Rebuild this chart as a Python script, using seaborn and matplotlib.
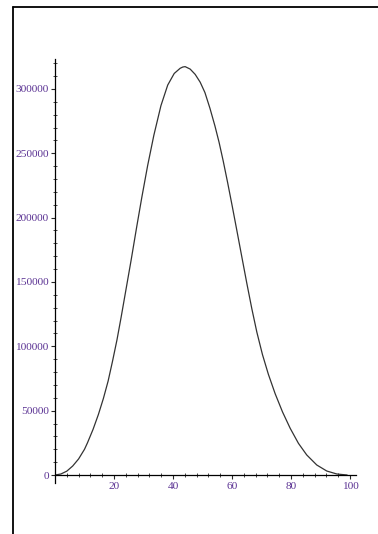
import numpy as np
import seaborn as sns
import matplotlib.pyplot as plt
from matplotlib.lines import Line2D
from matplotlib.ticker import MultipleLocator

# values
x_vals = [0, 2, 4, 6, 8, 10, 11, 12.9, 14.7, 16.4, 18, 19.5, 21, 22.4, 23.7,
          25.8, 27.7, 29.4, 31.4, 33.5, 35.9, 38.2, 40.4, 42.4, 43.3, 44.1,
          45.8, 47.5, 49.2, 50.8, 52.5, 54.2, 55.6, 57.0, 58.5, 60.1, 61.6,
          63.3, 65.0, 66.7, 68.4, 70.3, 72.3, 74.6, 77.1, 79.7, 82.5, 85.3,
          88.7, 92.1, 95.5, 99.0]
y_vals = [0, 800, 3000, 7000, 12500, 20000, 25000, 35500, 47000, 59500,
          73000, 88500, 105000, 122500, 139500, 167000, 193000, 215500,
          240500, 264000, 287000, 303000, 312000, 316000, 317000, 317300,
          315400, 311300, 305200, 297200, 285000, 271200, 258500, 244000,
          227200, 208400, 190300, 169600, 149000, 129200, 111000, 93600,
          78300, 63200, 49000, 36300, 24600, 15600, 7800, 3100, 800, 0]

x_ticks = [20, 40, 60, 80, 100]
y_ticks = [0, 50000, 100000, 150000, 200000, 250000, 300000]

sns.set_style("ticks")
plt.rcParams['font.family'] = ['Liberation Serif', 'DejaVu Serif']

label_color = "#5c3494"

fig = plt.figure(figsize=(3.78, 5.34), dpi=100)
ax = fig.add_axes([55 / 378, 1 - 483 / 534, 301 / 378, (483 - 59.3) / 534])

sns.lineplot(x=x_vals, y=y_vals, ax=ax, color="#333333", linewidth=0.9,
             sort=False, estimator=None)

ax.set_xlim(0, 102)
ax.set_ylim(-6200, 323000)
ax.spines["top"].set_visible(False)
ax.spines["right"].set_visible(False)
ax.spines["bottom"].set_position(("data", 0))
for s in ("left", "bottom"):
    ax.spines[s].set_linewidth(0.9)
    ax.spines[s].set_color("black")

ax.set_xticks(x_ticks)
ax.set_yticks(y_ticks)
ax.set_yticklabels([str(v) for v in y_ticks])
ax.xaxis.set_minor_locator(MultipleLocator(4))
ax.yaxis.set_minor_locator(MultipleLocator(10000))
ax.tick_params(which="major", direction="out", length=3, width=0.8,
               labelsize=8.2, labelcolor=label_color)
ax.tick_params(axis="y", which="major", pad=1.5)
ax.tick_params(axis="x", which="major", pad=2)
ax.tick_params(which="minor", direction="inout", length=2.5, width=0.6)
ax.set_xlabel("")
ax.set_ylabel("")

# outer frame lines (top and left)
fig.add_artist(Line2D([12.5 / 378, 1], [1 - 6.5 / 534, 1 - 6.5 / 534],
                      color="black", linewidth=1.3, transform=fig.transFigure))
fig.add_artist(Line2D([12.5 / 378, 12.5 / 378], [0, 1 - 6.5 / 534],
                      color="black", linewidth=1.3, transform=fig.transFigure))

fig.savefig("out.png", dpi=100)
